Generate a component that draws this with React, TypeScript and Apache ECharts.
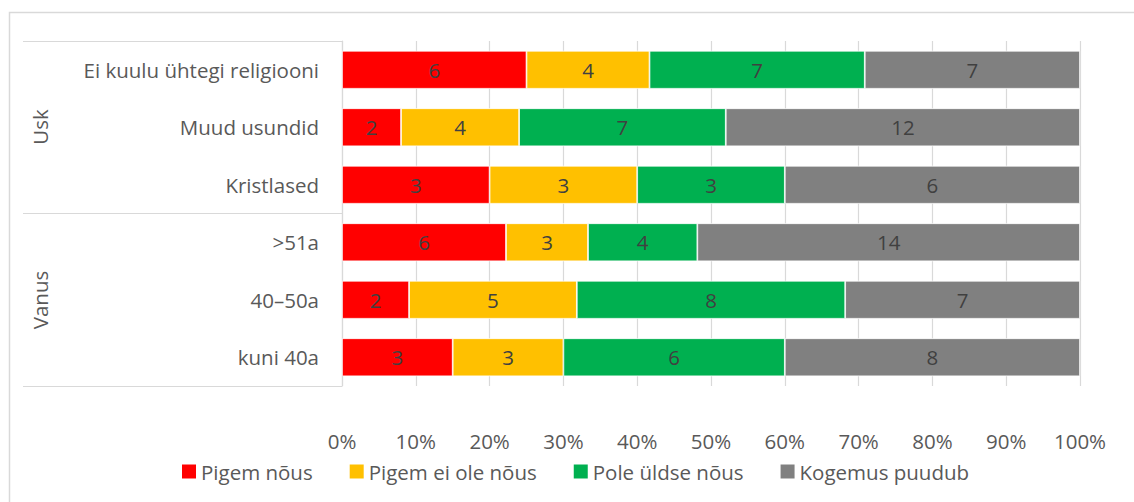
import React, { useEffect, useRef } from "react";
import * as echarts from "echarts";

const categories = ["Ei kuulu ühtegi religiooni", "Muud usundid", "Kristlased", ">51a", "40–50a", "kuni 40a"];
const groupNames = ["Usk", "Vanus"];
const seriesNames = ["Pigem nõus", "Pigem ei ole nõus", "Pole üldse nõus", "Kogemus puudub"];
const pigemNous = [6, 2, 3, 6, 2, 3];
const pigemEiOleNous = [4, 4, 3, 3, 5, 3];
const poleYldseNous = [7, 7, 3, 4, 8, 6];
const kogemusPuudub = [7, 12, 6, 14, 7, 8];
const seriesColors = ["#FF0000", "#FFC000", "#00B050", "#808080"];

const FONT = "Open Sans";
const FS = 20.5;
const TEXT = "#595959";
const LINE = "#d9d9d9";

export default function App() {
  const ref = useRef<HTMLDivElement>(null);
  useEffect(() => {
    if (!ref.current) return;
    const chart = echarts.init(ref.current, undefined, { renderer: "svg" });
    const all = [pigemNous, pigemEiOleNous, poleYldseNous, kogemusPuudub];
    const totals = categories.map((_, i) => all.reduce((s, arr) => s + arr[i], 0));
    const series = all.map((arr, si) => ({
      name: seriesNames[si],
      type: "bar",
      stack: "total",
      barWidth: 38,
      itemStyle: { color: seriesColors[si], borderColor: "#ffffff", borderWidth: 0.75 },
      label: {
        show: true,
        position: "inside",
        color: "#404040",
        fontFamily: FONT,
        fontSize: FS,
        formatter: (p: any) => String(p.data.count),
      },
      data: arr.map((v, i) => ({ value: v / totals[i], count: v })),
    }));

    chart.setOption({
      animation: false,
      textStyle: { fontFamily: FONT },
      grid: { left: 342, right: 54, top: 41, bottom: 116, containLabel: false },
      legend: {
        left: 177,
        top: 456,
        itemWidth: 14,
        itemHeight: 14,
        itemGap: 37,
        itemStyle: { borderWidth: 0 },
        icon: "rect",
        textStyle: { color: TEXT, fontFamily: FONT, fontSize: FS },
        data: seriesNames,
      },
      xAxis: {
        type: "value",
        min: 0,
        max: 1,
        interval: 0.1,
        axisLine: { show: false },
        axisTick: { show: false },
        splitLine: { show: true, lineStyle: { color: LINE, width: 1.2 } },
        axisLabel: {
          color: TEXT,
          fontFamily: FONT,
          fontSize: FS,
          margin: 44,
          formatter: (v: number) => Math.round(v * 100) + "%",
        },
      },
      yAxis: {
        type: "category",
        inverse: true,
        data: categories,
        axisLine: { show: true, lineStyle: { color: LINE, width: 1.2 } },
        axisTick: { show: false },
        axisLabel: { color: TEXT, fontFamily: FONT, fontSize: FS, margin: 23 },
      },
      graphic: [
        { type: "rect", shape: { x: 9.5, y: 12.5, width: 1300, height: 700 }, style: { fill: "none", stroke: LINE, lineWidth: 1.5 }, silent: true },
        { type: "line", shape: { x1: 23, y1: 41.5, x2: 342, y2: 41.5 }, style: { stroke: LINE, lineWidth: 1.2 } },
        { type: "line", shape: { x1: 23, y1: 213.5, x2: 342, y2: 213.5 }, style: { stroke: LINE, lineWidth: 1.2 } },
        { type: "line", shape: { x1: 23, y1: 386.5, x2: 342, y2: 386.5 }, style: { stroke: LINE, lineWidth: 1.2 } },
        { type: "text", x: 40, y: 127, rotation: Math.PI / 2, style: { text: groupNames[0], fill: TEXT, font: `${FS}px "${FONT}"`, textAlign: "center", textVerticalAlign: "middle" } },
        { type: "text", x: 40, y: 300, rotation: Math.PI / 2, style: { text: groupNames[1], fill: TEXT, font: `${FS}px "${FONT}"`, textAlign: "center", textVerticalAlign: "middle" } },
      ],
      series,
    });
    return () => chart.dispose();
  }, []);
  return <div ref={ref} style={{ position: "fixed", left: 0, top: 0, width: 1134, height: 502, background: "#fff" }} />;
}
